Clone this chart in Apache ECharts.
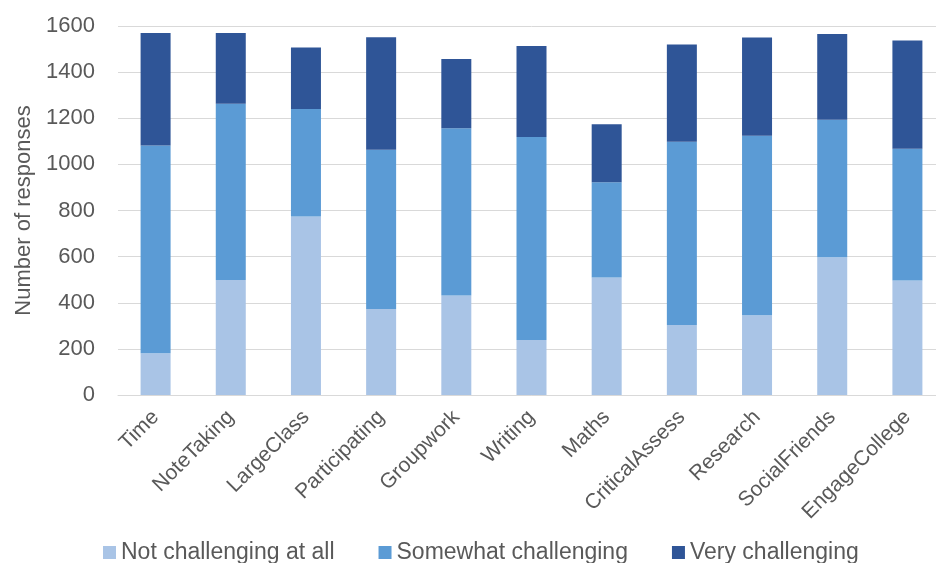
<!DOCTYPE html>
<html>
<head>
<meta charset="utf-8">
<script src="https://cdn.jsdelivr.net/npm/echarts@6/dist/echarts.min.js"></script>
<style>
  html, body { margin: 0; padding: 0; background: #fff; overflow: hidden; }
  #chart { width: 945px; height: 563px; }
</style>
</head>
<body>
<div id="chart"></div>
<script>
const categories = ['Time', 'NoteTaking', 'LargeClass', 'Participating', 'Groupwork', 'Writing',
  'Maths', 'CriticalAssess', 'Research', 'SocialFriends', 'EngageCollege']
const notChallenging = [181, 499, 774, 373, 431, 239, 510, 303, 346, 597, 497]
const somewhatChallenging = [901, 764, 466, 690, 726, 880, 413, 795, 778, 596, 571]
const veryChallenging = [488, 307, 267, 488, 300, 394, 251, 422, 426, 372, 469]
const yTicks = [0, 200, 400, 600, 800, 1000, 1200, 1400, 1600]

const font = 'Liberation Sans'
const textColor = '#595959'

// plot runs a little past the right edge of the window, as in the original
const chart = echarts.init(document.getElementById('chart'))

function bar (name, data, color) {
  return {
    name: name,
    type: 'bar',
    stack: 'total',
    barWidth: 30,
    data: data,
    itemStyle: { color: color },
    emphasis: { disabled: true }
  }
}

chart.setOption({
  animation: false,
  grid: {
    left: 118,
    top: 26,
    right: 0,
    bottom: 168
  },
  legend: {
    top: 536,
    left: 98,
    itemWidth: 13,
    itemHeight: 13,
    itemGap: 44,
    icon: 'rect',
    textStyle: { color: textColor, fontFamily: font, fontSize: 23 },
    data: ['Not challenging at all', 'Somewhat challenging', 'Very challenging']
  },
  xAxis: {
    type: 'category',
    data: categories,
    axisLine: { lineStyle: { color: '#D9D9D9' } },
    axisTick: { show: false },
    axisLabel: {
      rotate: 45,
      margin: 19,
      interval: 0,
      color: textColor,
      fontFamily: font,
      fontSize: 21
    }
  },
  yAxis: {
    type: 'value',
    min: yTicks[0],
    max: yTicks[yTicks.length - 1],
    interval: yTicks[1] - yTicks[0],
    name: 'Number of responses',
    nameLocation: 'middle',
    nameGap: 79,
    nameTextStyle: { color: textColor, fontFamily: font, fontSize: 22 },
    axisLine: { show: false },
    axisTick: { show: false },
    axisLabel: {
      color: textColor,
      fontFamily: font,
      fontSize: 22,
      margin: 23,
      formatter: function (v) { return String(v) }
    },
    splitLine: { lineStyle: { color: '#D9D9D9' } }
  },
  series: [
    bar('Not challenging at all', notChallenging, '#A9C4E6'),
    bar('Somewhat challenging', somewhatChallenging, '#5B9BD5'),
    bar('Very challenging', veryChallenging, '#2F5597')
  ]
})
</script>
</body>
</html>
